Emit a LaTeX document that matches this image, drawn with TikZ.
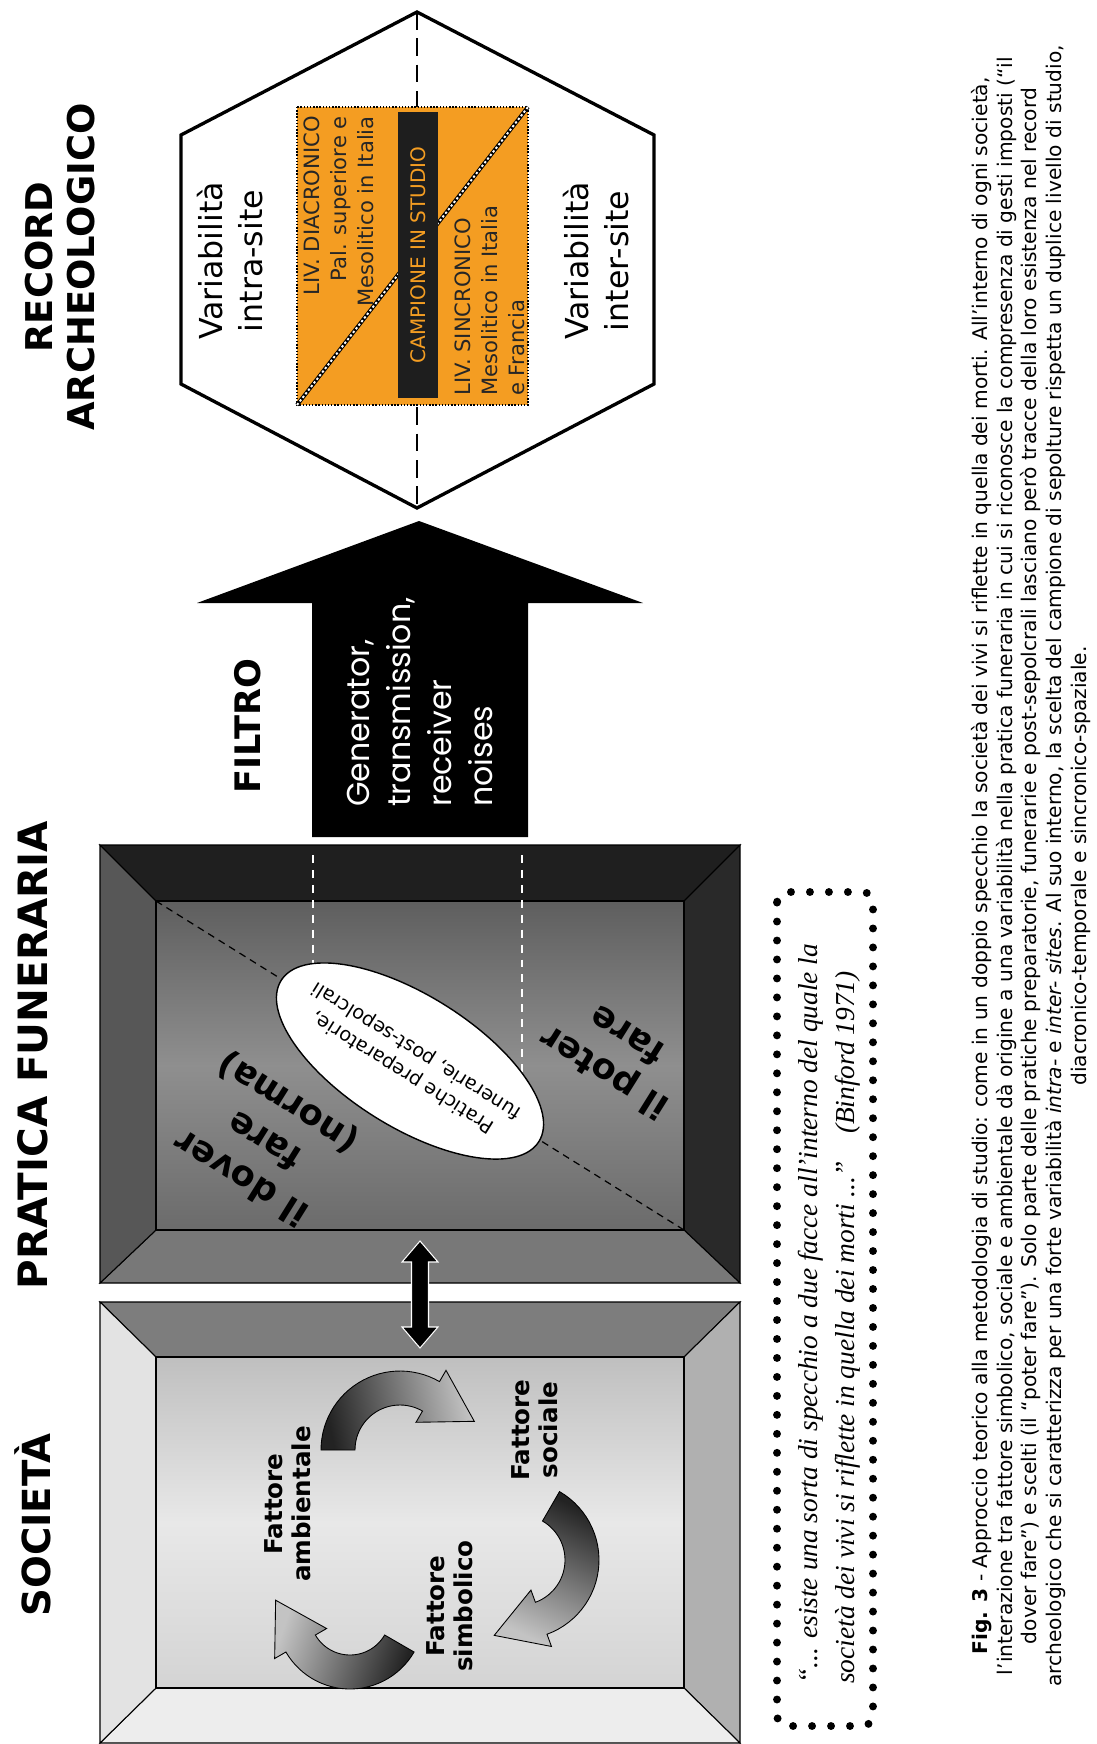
\documentclass[tikz,border=0pt]{standalone}
\usepackage{fontspec}
\setmainfont{DejaVu Sans}
\newfontfamily\quotefont{Liberation Serif}
\newfontfamily\noisefont{Poppins}

\definecolor{sampleorange}{RGB}{244,157,34}
\definecolor{barblack}{RGB}{30,30,30}
\definecolor{arrowdark}{RGB}{35,35,35}
\definecolor{arrowlight}{RGB}{195,195,195}

\tikzset{
  title/.style={font=\bfseries\fontsize{22}{23.5}\selectfont, rotate=90, align=center, inner sep=0pt},
  fattore/.style={font=\bfseries\fontsize{14}{16}\selectfont, rotate=90, align=center, inner sep=0pt},
  tilted/.style={font=\bfseries\fontsize{20}{25}\selectfont, rotate=148, align=center, inner sep=0pt},
  livtext/.style={font=\fontsize{12}{15.2}\selectfont, text=black!85, rotate=90, inner sep=0pt},
  variab/.style={font=\fontsize{18}{22.8}\selectfont, rotate=90, align=center, inner sep=0pt},
  bandline/.style={draw=black, line width=0.6pt},
}

% curved arrow of the cycle: cx, cy, radius, start, end, shading angle
\newcommand{\cycarrow}[6]{%
  \shadedraw[left color=arrowdark, right color=arrowlight, shading angle=#6, draw=black, line width=0.5pt]
    plot[domain=#4:#5, samples=30, variable=\t] ({#1+(#3+17)*cos(\t)},{#2+(#3+17)*sin(\t)})
    -- ({#1+(#3+30)*cos(#5)},{#2+(#3+30)*sin(#5)})
    -- ({#1+#3*cos(#5)-50*sin(#5)},{#2+#3*sin(#5)+50*cos(#5)})
    -- ({#1+(#3-30)*cos(#5)},{#2+(#3-30)*sin(#5)})
    -- plot[domain=#5:#4, samples=30, variable=\t] ({#1+(#3-17)*cos(\t)},{#2+(#3-17)*sin(\t)})
    -- cycle;
}

\begin{document}
\begin{tikzpicture}[x=0.02cm, y=-0.02cm]

    \fill[white] (0,0) rectangle (1097,1744);
    \useasboundingbox (0,0) rectangle (1097,1744);

    % Titles
    \node[title, font=\bfseries\fontsize{21}{23.5}\selectfont] (record) at (60,267) {RECORD\\ARCHEOLOGICO};
    \node[title, font=\bfseries\fontsize{20}{23}\selectfont] (filtro) at (248,726) {FILTRO};
    \node[title, font=\bfseries\fontsize{23}{25}\selectfont] (pratica) at (33,1055) {PRATICA FUNERARIA};
    \node[title] (societa) at (33,1525) {SOCIETÀ};

    % Box of the funerary practice
    \coordinate (pa) at (100,845);  \coordinate (pb) at (740,845);
    \coordinate (pc) at (740,1283); \coordinate (pd) at (100,1283);
    \coordinate (pia) at (156,901);  \coordinate (pib) at (684,901);
    \coordinate (pic) at (684,1230); \coordinate (pid) at (156,1230);
    \filldraw[fill=black!88, bandline] (pa) -- (pb) -- (pib) -- (pia) -- cycle;
    \filldraw[fill=black!84, bandline] (pb) -- (pc) -- (pic) -- (pib) -- cycle;
    \filldraw[fill=black!53, bandline] (pc) -- (pd) -- (pid) -- (pic) -- cycle;
    \filldraw[fill=black!66, bandline] (pd) -- (pa) -- (pia) -- (pid) -- cycle;
    \shadedraw[top color=black!63, bottom color=black!58, middle color=black!44, bandline] (pia) rectangle (pic);
    \draw[line width=0.7pt, dash pattern=on 4pt off 3pt] (pia) -- (pic);

    % Box of the society
    \coordinate (sa) at (100,1302); \coordinate (sb) at (740,1302);
    \coordinate (sc) at (740,1743); \coordinate (sd) at (100,1743);
    \coordinate (sia) at (156,1357); \coordinate (sib) at (684,1357);
    \coordinate (sic) at (684,1688); \coordinate (sid) at (156,1688);
    \filldraw[fill=black!51, bandline] (sa) -- (sb) -- (sib) -- (sia) -- cycle;
    \filldraw[fill=black!31, bandline] (sb) -- (sc) -- (sic) -- (sib) -- cycle;
    \filldraw[fill=black!7, bandline] (sc) -- (sd) -- (sid) -- (sic) -- cycle;
    \filldraw[fill=black!11, bandline] (sd) -- (sa) -- (sia) -- (sid) -- cycle;
    \shadedraw[top color=black!25, bottom color=black!17, middle color=black!9, bandline] (sia) rectangle (sic);

    % Filter arrow
    \fill[black] (312,837) -- (312,603) -- (197,603) -- (419,521) -- (643,603) -- (528,603) -- (528,837) -- cycle;
    \node[font=\noisefont\fontsize{18}{23.5}\selectfont, text=white, rotate=90, align=left, anchor=west, inner sep=0pt] (noise) at (420,807) {Generator,\\transmission,\\receiver\\noises};
    \draw[white, line width=1.2pt, dash pattern=on 4.5pt off 4pt] (313,855) -- (313,975);
    \draw[white, line width=1.2pt, dash pattern=on 4.5pt off 4pt] (522,855) -- (522,1125);

    % Ellipse of the practices
    \coordinate (ellc) at (410,1061);
    \filldraw[fill=white, draw=black, line width=0.8pt, rotate around={-32:(ellc)}] (ellc) ellipse [x radius=3.04cm, y radius=1.32cm];
    \node[font=\fontsize{11}{14.5}\selectfont, rotate=148, align=center, inner sep=0pt] (pratiche) at (ellc) {Pratiche preparatorie,\\funerarie, post-sepolcrali};
    \node[tilted] (dover) at (265,1140) {il dover\\fare\\(norma)};
    \node[tilted] (poter) at (615,1055) {il poter\\fare};

    % Double arrow between the boxes
    \coordinate (dbltop) at (420,1241);
    \filldraw[fill=black, draw=white, line width=0.6pt] (dbltop) -- ++(18,21) -- ++(-9.5,0) -- ++(0,65) -- ++(9.5,0)
      -- ++(-18,21) -- ++(-18,-21) -- ++(9.5,0) -- ++(0,-65) -- ++(-9.5,0) -- cycle;

    % Cycle of the factors
    \node[fattore] (ambientale) at (288,1504) {Fattore\\ambientale};
    \node[fattore] (sociale) at (535,1430) {Fattore\\sociale};
    \node[fattore] (simbolico) at (450,1606) {Fattore\\simbolico};
    \cycarrow{400}{1450}{62}{180}{300}{102}
    \cycarrow{520}{1560}{62}{-60}{70}{334}
    \cycarrow{350}{1615}{57}{30}{150}{251}

    % Hexagon of the record
    \coordinate (htop) at (417,12);  \coordinate (hur) at (654,135);
    \coordinate (hlr) at (654,384);  \coordinate (hbot) at (417,508);
    \coordinate (hll) at (181,384);  \coordinate (hul) at (181,135);
    \draw[line width=1.9pt] (htop) -- (hur) -- (hlr) -- (hbot) -- (hll) -- (hul) -- cycle;
    \draw[line width=1.4pt, dash pattern=on 10pt off 5pt] (htop) -- (hbot);
    \fill[sampleorange] (297,107) rectangle (528,405);
    \draw[densely dotted, line width=0.8pt] (297,107) rectangle (528,405);
    \draw[black, line width=2.2pt] (297,405) -- (528,107);
    \draw[white, line width=1.1pt, dash pattern=on 1.3pt off 1.3pt] (297,405) -- (528,107);
    \node[fill=barblack, text=sampleorange, rotate=90, minimum width=5.72cm, minimum height=0.8cm, inner sep=0pt, font=\fontsize{11.4}{13}\selectfont] (campione) at (418,255) {CAMPIONE IN STUDIO};
    \node[livtext, align=right, anchor=east] (diacronico) at (339,116) {LIV. DIACRONICO\\Pal. superiore e\\Mesolitico in Italia};
    \node[livtext, align=left, anchor=west] (sincronico) at (490,396) {LIV. SINCRONICO\\Mesolitico in Italia\\e Francia};
    \node[variab] (intra) at (230,261) {Variabilità\\intra-site};
    \node[variab] (inter) at (596,261) {Variabilità\\inter-site};

    % Quotation
    \draw[line width=4.5pt, line cap=round, dash pattern=on 0pt off 10.8pt, rounded corners=6] (777,892) rectangle (873,1726);
    \node[font=\quotefont\itshape\fontsize{15.6}{21}\selectfont, rotate=90, align=left, anchor=west, inner sep=0pt] (binford) at (829,1684)
      {“... esiste una sorta di specchio a due facce all’interno del quale la\\società dei vivi si riflette in quella dei morti ...”\quad(Binford 1971)};

    % Caption
    \node[font=\fontsize{11.5}{14.2}\selectfont, rotate=90, align=center, inner sep=0pt] (caption) at (1031,866)
      {\textbf{Fig. 3} - Approccio teorico alla metodologia di studio: come in un doppio specchio la società dei vivi si riflette in quella dei morti. All’interno di ogni società,\\
       l’interazione tra fattore simbolico, sociale e ambientale dà origine a una variabilità nella pratica funeraria in cui si riconosce la compresenza di gesti imposti (“il\\
       dover fare”) e scelti (il “poter fare”). Solo parte delle pratiche preparatorie, funerarie e post-sepolcrali lasciano però tracce della loro esistenza nel record\\
       archeologico che si caratterizza per una forte variabilità \textit{intra-} e \textit{inter- sites}. Al suo interno, la scelta del campione di sepolture rispetta un duplice livello di studio,\\
       diacronico-temporale e sincronico-spaziale.};

\end{tikzpicture}
\end{document}
